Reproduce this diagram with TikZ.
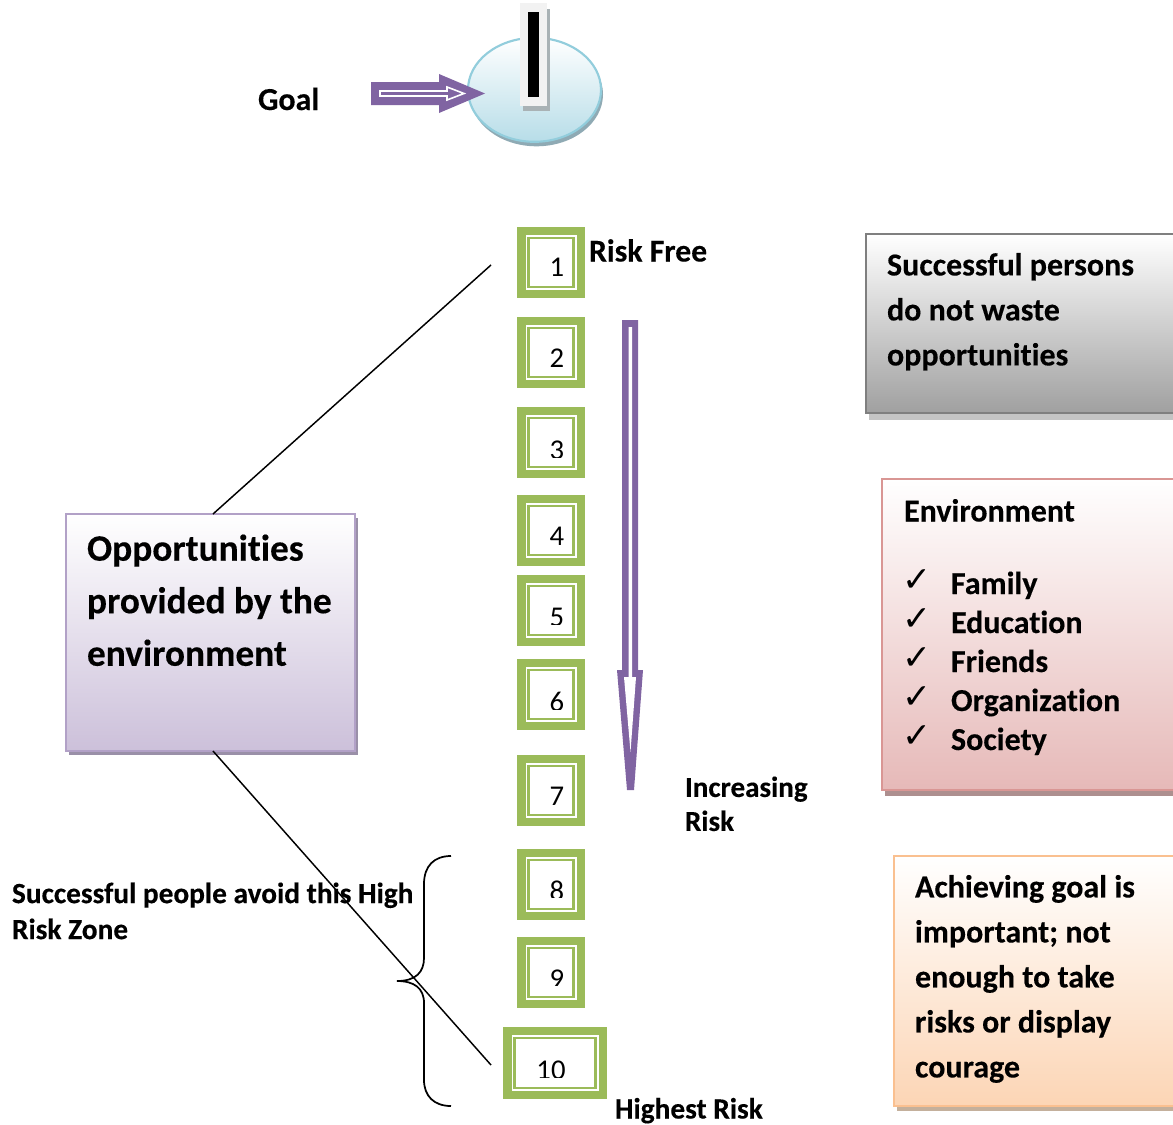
\documentclass[tikz,border=0pt]{standalone}
\usepackage{fontspec}
\setmainfont{Carlito}[RawFeature={-liga},BoldFeatures={FakeBold=0.25,RawFeature={-liga}}]
\newfontfamily\chkfont{DejaVu Sans}
\usetikzlibrary{calc}
\definecolor{vio}{HTML}{8064A2}
\definecolor{grn}{HTML}{9BBB59}
\definecolor{HTMLshadow}{HTML}{8FAAB4}
\definecolor{HTMLdisc}{HTML}{B7DDE8}
\definecolor{HTMLring}{HTML}{92CDDC}
\definecolor{HTMLpinshadow}{HTML}{A9B2B5}
\definecolor{HTMLpin}{HTML}{F2F2F2}
\definecolor{HTMLlavshadow}{HTML}{9A90A8}
\definecolor{HTMLlav}{HTML}{B2A1C7}
\definecolor{HTMLlavfill}{HTML}{CCC0DA}
\definecolor{HTMLgreyshadow}{HTML}{C4C4C4}
\definecolor{HTMLgrey}{HTML}{7F7F7F}
\definecolor{HTMLgreyfill}{HTML}{A0A0A0}
\definecolor{HTMLpinkshadow}{HTML}{AD8F8F}
\definecolor{HTMLpink}{HTML}{D99694}
\definecolor{HTMLpinkfill}{HTML}{E6B9B8}
\definecolor{HTMLorshadow}{HTML}{C4B09C}
\definecolor{HTMLor}{HTML}{FAC090}
\definecolor{HTMLorfill}{HTML}{FCD5B5}
\tikzset{
 x=0.75pt,y=-0.75pt,
 lbl/.style={inner sep=0pt,outer sep=0pt,anchor=base west,text=black},
 ml/.style={inner sep=0pt,outer sep=0pt,anchor=north west,align=left,text=black},
 panel/.style={inner sep=0pt,outer sep=0pt,anchor=north west,line width=1.6pt},
 conn/.style={draw=black,line width=1.1pt},
 digit/.style={inner sep=0pt,outer sep=0pt,anchor=base,font=\fontsize{21.5}{21.5}\selectfont,text=black},
}
% name, left, top, right, bottom, digit, digit x, baseline, cut y
\newcommand{\numbox}[9]{%
 \path[fill=grn] (#2,#3) rectangle (#4,#5);
 \path[fill=white] ($(#2,#3)+(8.5,8)$) rectangle ($(#4,#5)+(-8.5,-8)$);
 \draw[grn,line width=1.9pt] ($(#2,#3)+(11.5,11)$) rectangle ($(#4,#5)+(-11.5,-11)$);
 \begin{scope}
  \clip (#2,#3) rectangle (#4,#9);
  \node[digit] (#1) at (#7,#8) {#6};
 \end{scope}}
\begin{document}
\begin{tikzpicture}
\useasboundingbox (0,0) rectangle (1173,1124);
\fill[white] (0,0) rectangle (1173,1124);
% goal target
\path[fill=HTMLshadow] (536.5,94.3) ellipse [x radius=66.5,y radius=52];
\shade[top color=white,bottom color=HTMLdisc] (534.5,89.8) ellipse [x radius=66.5,y radius=52];
\draw[HTMLring,line width=1.6pt] (534.5,89.8) ellipse [x radius=66.5,y radius=52];
\fill[HTMLpinshadow] (523,9) rectangle (550,111);
\fill[HTMLpin] (520,3) rectangle (547,106);
\fill[black] (528.3,12) rectangle (539.3,97);
\node[lbl,font=\bfseries\fontsize{24}{24}\selectfont] (goal) at (258,110) {Goal};
\path[fill=vio] (371,82) -- (439,82) -- (439,74) -- (485,93.5) -- (439,113) -- (439,105) -- (371,105) -- cycle;
\draw[white,line width=1.2pt] (380,91) -- (447,91) -- (447,87) -- (464,93.5) -- (447,100) -- (447,96) -- (380,96) -- cycle;
% opportunities box
\fill[HTMLlavshadow] (69,518) rectangle (358,755);
\node[panel,draw=HTMLlav,top color=white,bottom color=HTMLlavfill,minimum width=289*0.75pt,minimum height=237*0.75pt] (opp) at (66,514) {};
\node[ml,font=\bfseries\fontsize{28}{39.4}\selectfont] (opptext) at (87,534.5) {Opportunities\\provided by the\\environment};
% connectors
\coordinate (oppTop) at (213,514);
\coordinate (oppBot) at (213,751);
\coordinate (endTop) at (491,265);
\coordinate (endBot) at (491,1065);
\draw[conn] (oppTop) -- (endTop);
\draw[conn] (oppBot) -- (endBot);
% number boxes
\numbox{n1}{517}{227}{585}{298}{1}{557}{276}{298}
\numbox{n2}{517}{317}{585}{388}{2}{557}{367}{367}
\numbox{n3}{517}{407}{585}{478}{3}{557}{459}{457}
\numbox{n4}{517}{495}{585}{566}{4}{557}{545}{566}
\numbox{n5}{517}{575}{585}{646}{5}{557}{626}{624}
\numbox{n6}{517}{659}{585}{730}{6}{557}{711}{709}
\numbox{n7}{517}{755}{585}{826}{7}{557}{805}{826}
\numbox{n8}{517}{849}{585}{920}{8}{557}{900}{897}
\numbox{n9}{517}{937}{585}{1008}{9}{557}{988}{985}
\numbox{n10}{503}{1027}{607}{1099}{10}{551}{1079}{1077}
\node[lbl,font=\bfseries\fontsize{23.8}{23.8}\selectfont] (free) at (589,261.5) {Risk Free};
\node[lbl,font=\bfseries\fontsize{22}{22}\selectfont] (high) at (615,1118.5) {Highest Risk};
% increasing arrow
\path[fill=vio] (622,320) -- (638,320) -- (638,670) -- (643,670) -- (634,790) -- (627,790) -- (617,670) -- (622,670) -- cycle;
\path[fill=white] (628.7,327) -- (632.2,327) -- (632.2,677) -- (636,677) -- (630.5,752) -- (624,677) -- (628.7,677) -- cycle;
\node[ml,font=\bfseries\fontsize{21.8}{25.5}\selectfont] (inc) at (685,776.5) {Increasing\\Risk};
% brace
\draw[black,line width=1.3pt] (451,856) .. controls (434,856) and (424,866) .. (424,884) -- (424,958) .. controls (424,972) and (416,981) .. (397,981) .. controls (414,981) and (424,988) .. (424,1003) -- (424,1080) .. controls (424,1096) and (434,1106) .. (451,1106);
\node[ml,font=\bfseries\fontsize{22}{27}\selectfont] (avoid) at (12,882.5) {Successful people avoid this High\\Risk Zone};
% grey box
\fill[HTMLgreyshadow] (869,240) rectangle (1180,420);
\node[panel,draw=HTMLgrey,top color=white,bottom color=HTMLgreyfill,minimum width=320*0.75pt,minimum height=179*0.75pt] (g) at (866,234) {};
\node[ml,font=\bfseries\fontsize{24}{33.75}\selectfont] (gtext) at (887,253) {Successful persons\\do not waste\\opportunities};
% pink box
\fill[HTMLpinkshadow] (885,484) rectangle (1180,796);
\node[panel,draw=HTMLpink,top color=white,bottom color=HTMLpinkfill,minimum width=300*0.75pt,minimum height=311*0.75pt] (p) at (882,479) {};
\node[lbl,font=\bfseries\fontsize{24}{24}\selectfont] (env) at (904,521.5) {Environment};
\foreach \yy/\ww [count=\i] in {594/Family,633/Education,672/Friends,711/Organization,750/Society}{
 \node[lbl,font=\chkfont\fontsize{26}{26}\selectfont] (c\i) at (902,\yy-3) {\symbol{"2713}};
 \node[lbl,font=\bfseries\fontsize{24}{24}\selectfont] (e\i) at (951,\yy) {\ww};
}
% orange box
\fill[HTMLorshadow] (897,861) rectangle (1180,1111);
\node[panel,draw=HTMLor,top color=white,bottom color=HTMLorfill,minimum width=290*0.75pt,minimum height=250*0.75pt] (o) at (894,856) {};
\node[ml,font=\bfseries\fontsize{24}{33.75}\selectfont] (otext) at (915,875) {Achieving goal is\\important; not\\enough to take\\risks or display\\courage};
\end{tikzpicture}
\end{document}
